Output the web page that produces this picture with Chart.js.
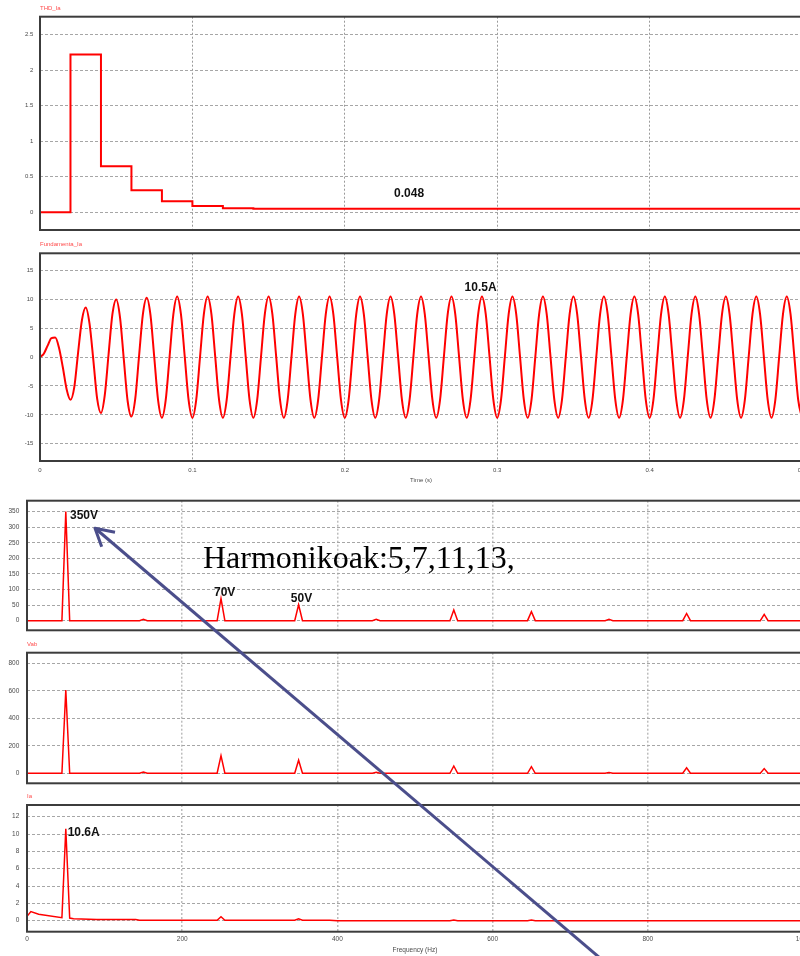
<!DOCTYPE html>
<html>
<head>
<meta charset="utf-8">
<title>THD / fundamental / spectra</title>
<script src="https://cdn.jsdelivr.net/npm/chart.js@4.4.1/dist/chart.umd.min.js"></script>
<style>
  html, body { margin: 0; padding: 0; background: #fff; }
  #page { position: relative; width: 800px; height: 956px; overflow: hidden; }
  #page canvas { position: absolute; left: 0; }
  #overlay { position: absolute; left: 0; top: 0; pointer-events: none; }
</style>
</head>
<body>
<div id="page">
  <canvas id="chart-thd"  width="812" height="240" style="top:0px"></canvas>
  <canvas id="chart-fund" width="812" height="250" style="top:240px"></canvas>
  <canvas id="chart-van"  width="812" height="146" style="top:490px"></canvas>
  <canvas id="chart-vab"  width="812" height="154" style="top:636px"></canvas>
  <canvas id="chart-ia"   width="812" height="166" style="top:790px"></canvas>
  <svg id="overlay" width="800" height="956" viewBox="0 0 800 956">
    <g stroke="#4b4e8b" stroke-width="3" fill="none" stroke-linejoin="round">
      <line x1="96" y1="529" x2="600" y2="958"/>
      <polyline points="115,532.3 95,528.3 101.7,546.7"/>
    </g>
    <text x="203" y="567.7" font-family="'Liberation Serif', 'Times New Roman', serif" font-size="32" fill="#000">Harmonikoak:5,7,11,13,</text>
  </svg>
</div>

<script>
// ---- time domain ----
// THD of Ia, updated once per cycle (step trace)
const thdTime  = [0, 0.02, 0.04, 0.06, 0.08, 0.10, 0.12, 0.14, 0.5];
const thdValue = [0, 2.22, 0.645, 0.31, 0.155, 0.087, 0.057, 0.048, 0.048];
const thdTicks = [0, 0.5, 1, 1.5, 2, 2.5];

// fundamental of Ia, read every 2.5 ms (one 20 ms cycle per row)
const fundStep = 0.0025;
const fundIa = [
  0, 0.6, 2.0, 3.3, 3.4, 1.6, -1.8, -5.6,
  -7.4, -5.2, 0.8, 6.4, 8.6, 5.8, -0.5, -7.2,
  -9.7, -6.6, 0.5, 7.4, 10.0, 6.9, -0.4, -7.6,
  -10.3, -7.2, 0.2, 7.4, 10.3, 7.3, -0.1, -7.5,
  -10.5, -7.4, 0, 7.4, 10.5, 7.4, 0, -7.4,
  -10.5, -7.4, 0, 7.4, 10.5, 7.4, 0, -7.4,
  -10.5, -7.4, 0, 7.4, 10.5, 7.4, 0, -7.4,
  -10.5, -7.4, 0, 7.4, 10.5, 7.4, 0, -7.4,
  -10.5, -7.4, 0, 7.4, 10.5, 7.4, 0, -7.4,
  -10.5, -7.4, 0, 7.4, 10.5, 7.4, 0, -7.4,
  -10.5, -7.4, 0, 7.4, 10.5, 7.4, 0, -7.4,
  -10.5, -7.4, 0, 7.4, 10.5, 7.4, 0, -7.4,
  -10.5, -7.4, 0, 7.4, 10.5, 7.4, 0, -7.4,
  -10.5, -7.4, 0, 7.4, 10.5, 7.4, 0, -7.4,
  -10.5, -7.4, 0, 7.4, 10.5, 7.4, 0, -7.4,
  -10.5, -7.4, 0, 7.4, 10.5, 7.4, 0, -7.4,
  -10.5, -7.4, 0, 7.4, 10.5, 7.4, 0, -7.4,
  -10.5, -7.4, 0, 7.4, 10.5, 7.4, 0, -7.4,
  -10.5, -7.4, 0, 7.4, 10.5, 7.4, 0, -7.4,
  -10.5, -7.4, 0, 7.4, 10.5, 7.4, 0, -7.4,
  -10.5, -7.4, 0, 7.4, 10.5, 7.4, 0, -7.4,
  -10.5, -7.4, 0, 7.4, 10.5, 7.4, 0, -7.4,
  -10.5, -7.4, 0, 7.4, 10.5, 7.4, 0, -7.4,
  -10.5, -7.4, 0, 7.4, 10.5, 7.4, 0, -7.4,
  -10.5, -7.4, 0, 7.4, 10.5, 7.4, 0, -7.4,
  -10.5
];
const fundTicks = [-15, -10, -5, 0, 5, 10, 15];
const timeTicks = [0, 0.1, 0.2, 0.3, 0.4, 0.5];

// ---- frequency domain ----
const vanFreq = [0, 45, 50, 55, 145, 150, 155, 245, 250, 255, 345, 350, 355, 445, 450, 455,
                 545, 550, 555, 645, 650, 655, 745, 750, 755, 845, 850, 855, 945, 950, 955, 1000];
const vanMag  = [0, 0, 350, 0, 0, 4, 0, 0, 71, 0, 0, 51, 0, 0, 4, 0,
                 0, 34, 0, 0, 29, 0, 0, 4, 0, 0, 23, 0, 0, 20, 0, 0];
const vanTicks = [0, 50, 100, 150, 200, 250, 300, 350];

const vabFreq = vanFreq;
const vabMag  = [0, 0, 606, 0, 0, 9, 0, 0, 128, 0, 0, 95, 0, 0, 7, 0,
                 0, 53, 0, 0, 48, 0, 0, 5, 0, 0, 39, 0, 0, 34, 0, 0];
const vabTicks = [0, 200, 400, 600, 800];

const iaFreq = [0, 5, 15, 45, 50, 55, 60, 90, 140, 145, 245, 250, 255, 345, 350, 355,
                390, 400, 545, 550, 555, 645, 650, 655, 1000];
const iaMag  = [0.5, 1.05, 0.75, 0.35, 10.6, 0.3, 0.22, 0.15, 0.15, 0.05, 0.05, 0.45, 0.05, 0.05, 0.22, 0.05,
                0.05, 0, 0, 0.08, 0, 0, 0.08, 0, 0];
const iaTicks = [0, 2, 4, 6, 8, 10, 12];
const freqTicks = [0, 200, 400, 600, 800, 1000];

const TRACE = '#ff0000';
const TICK_COLOR = '#4a4a4a';
const FONT = "'Liberation Sans', Arial, sans-serif";

function toPoints(xs, ys) {
  return ys.map((y, i) => ({ x: xs[i], y }));
}

// frame, panel name and bold value notes
const panelFrame = {
  id: 'panelFrame',
  afterDatasetsDraw(chart, args, opts) {
    const { ctx, chartArea: a, scales } = chart;
    ctx.save();
    ctx.strokeStyle = '#3c3c3c';
    ctx.lineWidth = 2;
    ctx.strokeRect(a.left, a.top, a.right - a.left, a.bottom - a.top);

    if (opts.name) {
      ctx.fillStyle = '#ff4b4b';
      ctx.font = '6px ' + FONT;
      ctx.textAlign = 'left';
      ctx.textBaseline = 'middle';
      ctx.fillText(opts.name, a.left, a.top - 8.5);
    }
    (opts.notes || []).forEach(n => {
      ctx.fillStyle = '#111';
      ctx.font = 'bold 12px ' + FONT;
      ctx.textAlign = 'left';
      ctx.textBaseline = 'middle';
      ctx.fillText(n.text, scales.x.getPixelForValue(n.x), scales.y.getPixelForValue(n.y));
    });
    ctx.restore();
  }
};

function yAxis(ticks, min, max, width, pad, size) {
  return {
    type: 'linear', min, max,
    afterBuildTicks: s => { s.ticks = ticks.map(v => ({ value: v })); },
    afterFit: s => { s.width = width; s.paddingTop = 0; s.paddingBottom = 0; },
    grid: { color: '#a6a6a6', lineWidth: 1, drawTicks: false },
    border: { display: false, dash: [3, 2] },
    ticks: { padding: pad, color: TICK_COLOR, font: { family: FONT, size }, callback: v => String(v) }
  };
}

function xAxis(ticks, max, labels, cfg) {
  return {
    type: 'linear', min: 0, max,
    afterBuildTicks: s => { s.ticks = ticks.map(v => ({ value: v })); },
    afterFit: s => { s.height = labels ? cfg.height : 0; s.paddingLeft = 0; s.paddingRight = 0; },
    grid: { color: cfg.gridColor, lineWidth: cfg.gridWidth, drawTicks: false },
    border: { display: false, dash: [2, 2] },
    ticks: { display: labels, padding: cfg.pad, color: TICK_COLOR, maxRotation: 0,
             font: { family: FONT, size: cfg.size }, callback: v => String(v) },
    title: { display: labels, text: cfg.title, padding: 0, color: TICK_COLOR,
             font: { family: FONT, size: cfg.size } }
  };
}

const timeCfg = { height: 22.6, pad: 5.4, size: 6, title: 'Time (s)', gridColor: '#9a9a9a', gridWidth: 1 };
const freqCfg = { height: 22.2, pad: 3.7, size: 6.5, title: 'Frequency (Hz)', gridColor: '#bdbdbd', gridWidth: 1.5 };

function makeChart(id, dataset, x, y, padding, panel) {
  return new Chart(document.getElementById(id), {
    type: 'line',
    data: { datasets: [Object.assign({ borderColor: TRACE, pointRadius: 0, fill: false }, dataset)] },
    options: {
      responsive: false,
      animation: false,
      devicePixelRatio: 1,
      layout: { padding },
      scales: { x, y },
      plugins: { legend: { display: false }, tooltip: { enabled: false }, panelFrame: panel }
    },
    plugins: [panelFrame]
  });
}

// 1. THD_Ia
makeChart('chart-thd',
  { data: toPoints(thdTime, thdValue), stepped: 'before', borderWidth: 2 },
  xAxis(timeTicks, 0.5, false, timeCfg),
  yAxis(thdTicks, -0.25, 2.75, 40, 6.7, 6),
  { top: 16.7, bottom: 10, left: 0, right: 10 },
  { name: 'THD_Ia', notes: [{ text: '0.048', x: 0.2323, y: 0.26 }] });

// 2. Fundamenta_Ia
makeChart('chart-fund',
  { data: fundIa.map((v, i) => ({ x: i * fundStep, y: v })), cubicInterpolationMode: 'monotone', borderWidth: 2 },
  xAxis(timeTicks, 0.5, true, timeCfg),
  yAxis(fundTicks, -18, 18, 40, 6.7, 6),
  { top: 13.3, bottom: 6.4, left: 0, right: 10 },
  { name: 'Fundamenta_Ia', notes: [{ text: '10.5A', x: 0.2786, y: 12.1 }] });

// 3. phase voltage spectrum
makeChart('chart-van',
  { data: toPoints(vanFreq, vanMag), borderWidth: 1.5 },
  xAxis(freqTicks, 1000, false, freqCfg),
  yAxis(vanTicks, -31, 385, 27, 7.7, 6.5),
  { top: 10.7, bottom: 5.7, left: 0, right: 9 },
  { notes: [
      { text: '350V', x: 55.4, y: 337 },
      { text: '70V', x: 241, y: 89 },
      { text: '50V', x: 340, y: 70.5 }
  ] });

// 4. Vab spectrum
makeChart('chart-vab',
  { data: toPoints(vabFreq, vabMag), borderWidth: 1.5 },
  xAxis(freqTicks, 1000, false, freqCfg),
  yAxis(vabTicks, -73, 877, 27, 7.7, 6.5),
  { top: 16.7, bottom: 6.7, left: 0, right: 9 },
  { name: 'Vab' });

// 5. Ia spectrum
makeChart('chart-ia',
  { data: toPoints(iaFreq, iaMag), borderWidth: 1.5 },
  xAxis(freqTicks, 1000, true, freqCfg),
  yAxis(iaTicks, -1.27, 13.35, 27, 7.7, 6.5),
  { top: 15, bottom: 2.1, left: 0, right: 9 },
  { name: 'Ia', notes: [{ text: '10.6A', x: 52.4, y: 10.15 }] });
</script>
</body>
</html>
